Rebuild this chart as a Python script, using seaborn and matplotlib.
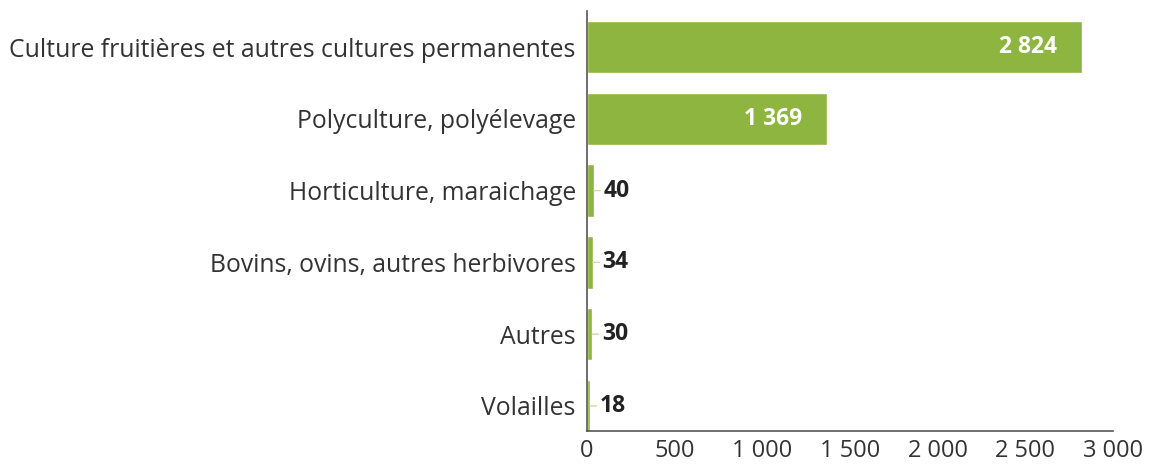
import matplotlib
matplotlib.use("Agg")
import matplotlib.pyplot as plt
import seaborn as sns
import pandas as pd
from matplotlib.ticker import FuncFormatter

categories = [
    "Culture fruitières et autres cultures permanentes",
    "Polyculture, polyélevage",
    "Horticulture, maraichage",
    "Bovins, ovins, autres herbivores",
    "Autres",
    "Volailles",
]
values = [2824, 1369, 40, 34, 30, 18]
xticks = [0, 500, 1000, 1500, 2000, 2500, 3000]

sns.set_theme(style="white")
plt.rcParams["font.family"] = ["Open Sans", "DejaVu Sans"]

df = pd.DataFrame({"cat": categories, "val": values})

fig = plt.figure(figsize=(11.53, 4.66), dpi=100)
ax = fig.add_axes([0.509, 0.075, 0.4563, 0.901])

green = "#8db53f"
sns.barplot(data=df, x="val", y="cat", orient="h", color=green, width=0.73,
            saturation=1, ax=ax)

def fmt(v):
    return f"{int(v):,}".replace(",", " ")

for i, v in enumerate(values):
    if v > 500:
        ax.annotate(fmt(v), xy=(v, i), xytext=(-18, 0), textcoords="offset points",
                    ha="right", va="center", color="white",
                    fontsize=16.5, fontweight="bold")
    else:
        ax.annotate(fmt(v), xy=(v, i), xytext=(7, 0), textcoords="offset points",
                    ha="left", va="center", color="#222222", fontsize=16.5,
                    fontweight="bold",
                    arrowprops=dict(arrowstyle="-", color="#c9dea0", lw=1,
                                    shrinkA=0, shrinkB=0))

ax.set_xlim(0, 3000)
ax.set_ylim(5.35, -0.5)
ax.set_xticks(xticks)
ax.xaxis.set_major_formatter(FuncFormatter(lambda v, p: fmt(v)))
ax.set_xlabel("")
ax.set_ylabel("")
for s in ["top", "right"]:
    ax.spines[s].set_visible(False)
for s in ["left", "bottom"]:
    ax.spines[s].set_color("#555555")
    ax.spines[s].set_linewidth(1.2)
ax.tick_params(axis="x", direction="in", length=8, width=1.2, color="#555555",
               labelsize=17, labelcolor="#333333", pad=6)
ax.tick_params(axis="y", length=0, labelsize=17.8, labelcolor="#333333", pad=8)

fig.savefig("out.png", dpi=100)
